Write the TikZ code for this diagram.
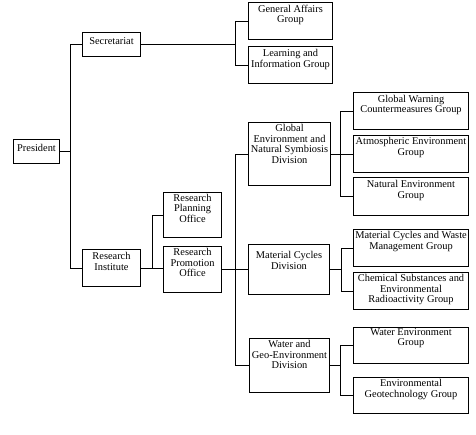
\documentclass[tikz,border=0pt]{standalone}
\usepackage{fontspec}
\setmainfont{Liberation Serif}
\tikzset{
  boxshape/.style={draw, line width=1pt, inner sep=0pt, anchor=north west},
  txt/.style={anchor=north, inner sep=0pt, align=center, font=\fontsize{10.4}{10.5}\selectfont},
  link/.style={line width=1pt}
}
\newcommand\orgbox[7]{%
  \node[boxshape, minimum width=#4pt, minimum height=#5pt] (#1) at (#2,#3) {};
  \path (#1.north) ++(0,#6) node[txt] (#1-t) {#7};
}
\begin{document}
\begin{tikzpicture}[x=1pt,y=-1pt]
\useasboundingbox[fill=white] (0,0) rectangle (476,434);
\orgbox{pres}{13}{139}{46}{24}{5.2}{President}
\orgbox{sec}{82}{32}{58}{24}{5.2}{Secretariat}
\orgbox{ga}{248}{2}{84}{37}{2.8}{General Affairs\\Group}
\orgbox{lig}{248}{46}{84}{37}{3.2}{Learning and\\Information Group}
\orgbox{ri}{82}{249}{58}{37}{3.2}{Research\\Institute}
\orgbox{rpl}{163}{192}{58}{45}{1.8}{Research\\Planning\\Office}
\orgbox{rpr}{163}{246}{58}{46}{2.2}{Research\\Promotion\\Office}
\orgbox{gend}{248}{122}{82}{63}{2.5}{Global\\Environment and\\Natural Symbiosis\\Division}
\orgbox{mcd}{248}{244}{81}{50}{7.5}{Material Cycles\\Division}
\orgbox{wgd}{249}{338}{80}{54}{2.5}{Water and\\Geo-Environment\\Division}
\orgbox{gw}{353}{92}{115}{37}{2.8}{Global Warning\\Countermeasures Group}
\orgbox{ae}{353}{135}{115}{37}{2.2}{Atmospheric Environment\\Group}
\orgbox{ne}{353}{177}{115}{38}{3.2}{Natural Environment\\Group}
\orgbox{mcw}{353}{229}{115}{37}{2.5}{Material Cycles and Waste\\Management Group}
\orgbox{cs}{353}{272}{115}{37}{2.2}{Chemical Substances and\\Environmental\\Radioactivity Group}
\orgbox{we}{353}{327}{115}{36}{1.2}{Water Environment\\Group}
\orgbox{eg}{353}{377}{115}{36}{2.2}{Environmental\\Geotechnology Group}
% trunk coordinates
\coordinate (tA) at (70,0);
\coordinate (tB) at (235,0);
\coordinate (tC) at (152,0);
\coordinate (tD) at (235,0);
\coordinate (tE) at (340,0);
\coordinate (tF) at (341,0);
\coordinate (tG) at (340,0);
% connectors
\draw[link] (sec.west) -- (sec.west -| tA) |- (ri.west);
\draw[link] (pres.east) -- (pres.east -| tA);
\draw[link] (ga.west) -- (ga.west -| tB) |- (lig.west);
\draw[link] (sec.east) -- (sec.east -| tB);
\draw[link] (ri.east) -- (ri.east -| rpr.west);
\draw[link] (rpl.west) -- (rpl.west -| tC) -- (ri.east -| tC);
\draw[link] (gend.west) -- (gend.west -| tD) |- (wgd.west);
\draw[link] (rpr.east) -- (rpr.east -| tD);
\draw[link] (mcd.west) -- (mcd.west -| tD);
\draw[link] (gw.west) -- (gw.west -| tE) |- (ne.west);
\draw[link] (gend.east) -- (gend.east -| tE);
\draw[link] (ae.west) -- (ae.west -| tE);
\draw[link] (mcw.west) -- (mcw.west -| tF) |- (cs.west);
\draw[link] (mcd.east) -- (mcd.east -| tF);
\draw[link] (we.west) -- (we.west -| tG) |- (eg.west);
\draw[link] (wgd.east) -- (wgd.east -| tG);
\end{tikzpicture}
\end{document}
